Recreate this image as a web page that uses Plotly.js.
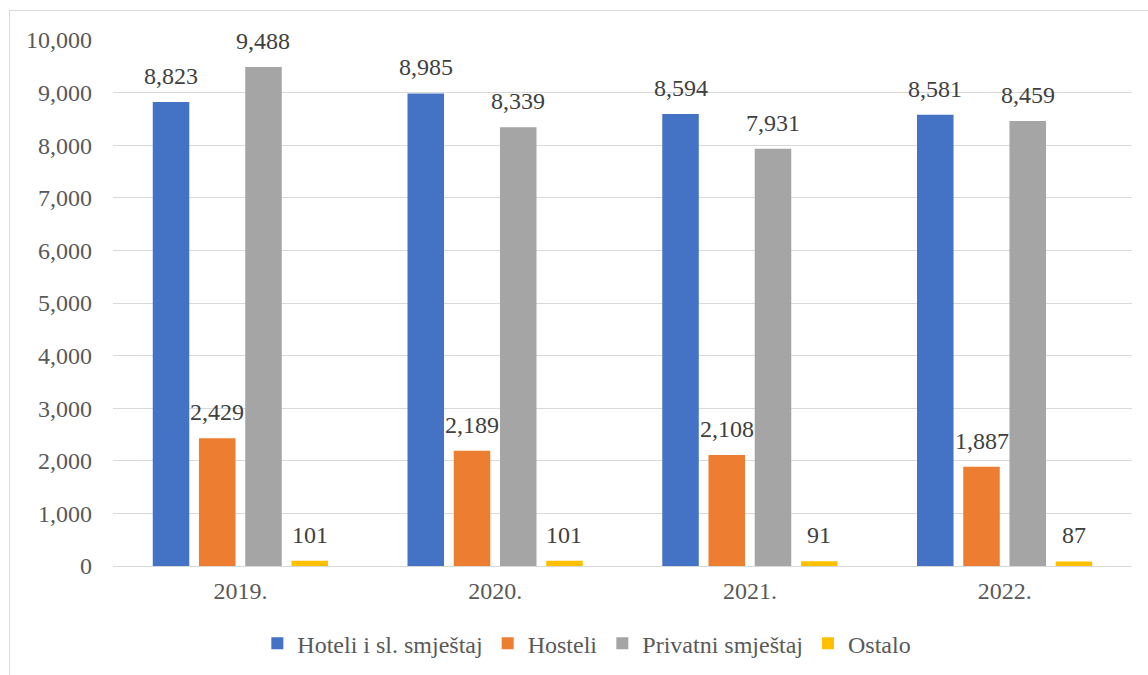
<!DOCTYPE html>
<html><head><meta charset="utf-8">
<script src="https://cdn.plot.ly/plotly-3.0.1.min.js"></script>
<style>
html,body{margin:0;padding:0;background:#fff;overflow:hidden}
#frame{position:absolute;left:9px;top:10px;width:1200px;height:700px;border:1px solid #d9d9d9;box-sizing:border-box}
#chart{position:absolute;left:0;top:0;width:1148px;height:675px}
</style></head>
<body>
<div id="frame"></div>
<div id="chart"></div>
<script>
const categories = ['2019.', '2020.', '2021.', '2022.'];
const hoteli = [8823, 8985, 8594, 8581];
const hosteli = [2429, 2189, 2108, 1887];
const privatni = [9488, 8339, 7931, 8459];
const ostalo = [101, 101, 91, 87];
const seriesNames = ['Hoteli i sl. smještaj', 'Hosteli', 'Privatni smještaj', 'Ostalo'];
const colors = ['#4472c4', '#ed7d31', '#a5a5a5', '#ffc000'];
const yTicks = [0,1000,2000,3000,4000,5000,6000,7000,8000,9000,10000];

const W = 1148, H = 675;
const margin = {l: 113, r: 16, t: 40, b: 109, autoexpand: false};
const bargap = 0.274, bargroupgap = 0.21;
const FONT = '"Liberation Serif", "Times New Roman", "DejaVu Serif", serif';

const fmt = v => v.toLocaleString('en-US');
const allSeries = [hoteli, hosteli, privatni, ostalo];
const traces = allSeries.map((vals, i) => ({
  type: 'bar',
  name: seriesNames[i],
  x: categories,
  y: vals,
  marker: {color: colors[i]},
  hoverinfo: 'none'
}));

// value labels placed above each bar using data coordinates
const catWidth = (W - margin.l - margin.r) / categories.length;
const slot = catWidth * (1 - bargap) / allSeries.length;
const annotations = [];
allSeries.forEach((vals, i) => {
  vals.forEach((v, j) => {
    annotations.push({
      x: j, y: v, xref: 'x', yref: 'y',
      text: fmt(v), showarrow: false,
      xanchor: 'center', yanchor: 'bottom',
      xshift: (i - (allSeries.length - 1) / 2) * slot,
      yshift: 11,
      font: {family: FONT, size: 24, color: '#404040'}
    });
  });
});

const layout = {
  width: W, height: H,
  margin: margin,
  paper_bgcolor: 'rgba(0,0,0,0)',
  plot_bgcolor: 'rgba(0,0,0,0)',
  font: {family: FONT, size: 24, color: '#595959'},
  barmode: 'group',
  bargap: bargap,
  bargroupgap: bargroupgap,
  showlegend: true,
  legend: {orientation: 'h', x: 0.465, xanchor: 'center', y: -0.105, yanchor: 'top',
           font: {family: FONT, size: 24, color: '#595959'}, traceorder: 'normal',
           itemwidth: 30},
  xaxis: {type: 'category', range: [-0.5, categories.length - 0.5], autorange: false,
          showgrid: false, showline: false, ticks: '', ticklabelstandoff: 8,
          tickfont: {family: FONT, size: 24, color: '#595959'}},
  yaxis: {range: [0, 10000], autorange: false, tickvals: yTicks, tickformat: ',d', showgrid: true,
          gridcolor: '#d9d9d9', gridwidth: 1, zeroline: true, zerolinecolor: '#d9d9d9', zerolinewidth: 1,
          showline: false, ticks: '', ticklabelstandoff: 20,
          tickfont: {family: FONT, size: 24, color: '#595959'}, automargin: false},
  annotations: annotations
};

Plotly.newPlot('chart', traces, layout, {displayModeBar: false, staticPlot: true});
</script>
</body></html>
